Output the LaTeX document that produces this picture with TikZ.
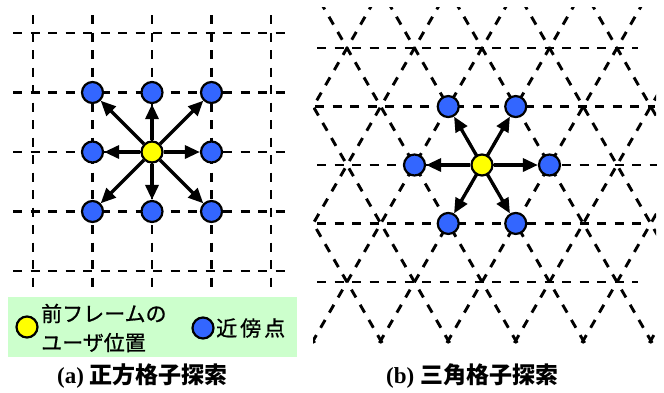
\documentclass[tikz,border=0pt]{standalone}
\usepackage{fontspec}
\setmainfont{Liberation Serif}
\newfontfamily\jp{Noto Sans CJK JP}
\newfontfamily\jpm[FakeBold=0.8]{Noto Sans CJK JP}
\usetikzlibrary{arrows.meta}
\definecolor{nodeblue}{HTML}{3366FF}
\definecolor{nodeyellow}{HTML}{FFFF00}
\definecolor{legendgreen}{HTML}{CCFFCC}
\begin{document}
\begin{tikzpicture}[x=1pt,y=-1pt,
  gridline/.style={line width=2.9pt, dash pattern=on 9pt off 8.5pt},
  nb/.style={circle, draw, line width=2.2pt, fill=nodeblue, minimum size=21pt, inner sep=0pt},
  cur/.style={nb, fill=nodeyellow},
  arr/.style={line width=3.3pt, -{Triangle[length=15pt,width=13pt]}},
  legtext/.style={anchor=west, inner sep=0pt, align=left, font=\jpm\fontsize{21}{29}\selectfont},
  captext/.style={anchor=west, inner sep=0pt, font=\fontsize{23}{23}\selectfont\bfseries}]

\path[use as bounding box] (0,0) rectangle (664,392);

% ---------- (a) square grid ----------
\foreach \v in {33,92.5,152,211.5,271} {
  \draw[gridline] (\v,15) -- (\v,292);
  \draw[gridline] (13,\v) -- (292,\v);
}
\node[cur] (sc) at (152,152) {};
\foreach \dx/\dy/\n in {-1/-1/nw,0/-1/n,1/-1/ne,-1/0/w,1/0/e,-1/1/sw,0/1/s,1/1/se} {
  \node[nb] (s\n) at ({152+59.5*\dx},{152+59.5*\dy}) {};
  \draw[arr] (sc) -- (s\n);
}

% ---------- (b) triangular grid ----------
\foreach \y/\xa/\xb in {48/317/638, 106.5/315/655, 165/317/657, 223.5/317/648, 282/317/638} {
  \draw[gridline] (\xa,\y) -- (\xb,\y);
}
\begin{scope}
  \clip (313,7) rectangle (656,346);
  \foreach \i in {-4,...,4} {
    \draw[gridline] ({482+67.5*\i-33.75*3.3},{165+58.5*3.3}) -- ({482+67.5*\i+33.75*3.3},{165-58.5*3.3});
    \draw[gridline] ({482+67.5*\i+33.75*3.3},{165+58.5*3.3}) -- ({482+67.5*\i-33.75*3.3},{165-58.5*3.3});
  }
\end{scope}
\node[cur] (tc) at (482,165) {};
\foreach \a/\n in {0/e,60/ne,120/nw,180/w,240/sw,300/se} {
  \node[nb] (t\n) at ({482+67.5*cos(\a)},{165-67.5*sin(\a)}) {};
  \draw[arr] (tc) -- (t\n);
}

% ---------- legend ----------
\node[fill=legendgreen, minimum width=289pt, minimum height=60pt, inner sep=0pt, anchor=north west] (legend) at (8,297) {};
\node[cur] (ly) at (27,327) {};
\node[legtext] (lyt) at (41,328) {前フレームの\\ユーザ位置};
\node[nb] (lb) at (203,328) {};
\node[legtext] (lbt) at (216,328) {近\hspace{3pt}傍\hspace{3pt}点};

% ---------- captions ----------
\node[captext] (capa) at (57,376) {(a) {\jp 正方格子探索}};
\node[captext] (capb) at (386,376) {(b) {\jp 三角格子探索}};
\end{tikzpicture}
\end{document}
